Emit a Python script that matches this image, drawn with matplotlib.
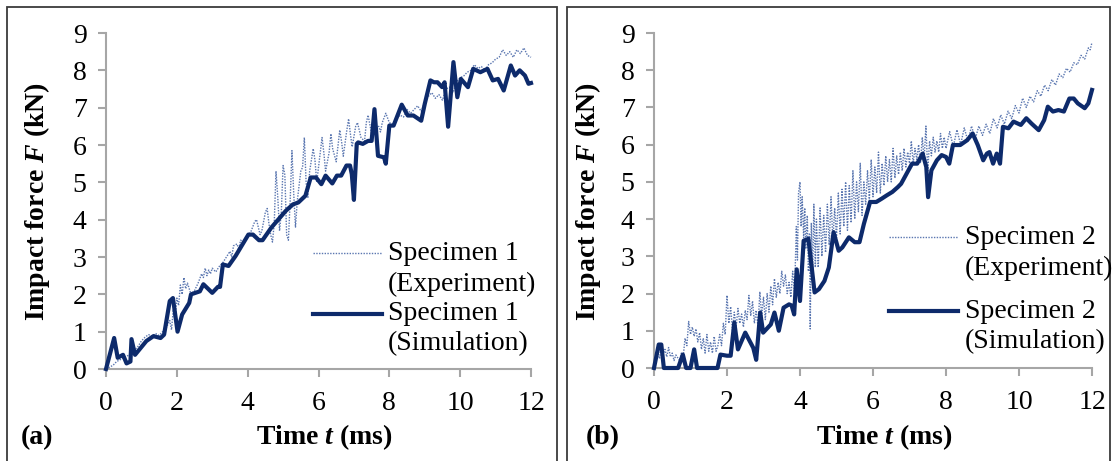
import matplotlib
matplotlib.use("Agg")
import matplotlib.pyplot as plt
from matplotlib.patches import Rectangle
from matplotlib.lines import Line2D

plt.rcParams['font.family'] = ['Liberation Serif', 'DejaVu Serif']
plt.rcParams['mathtext.fontset'] = 'custom'
plt.rcParams['mathtext.rm'] = 'Liberation Serif'
plt.rcParams['mathtext.it'] = 'Liberation Serif:italic'
plt.rcParams['mathtext.bf'] = 'Liberation Serif:bold'
plt.rcParams['mathtext.bfit'] = 'Liberation Serif:bold:italic'

# ---- specimen 1 ----
exp1_t = [0.0, 0.1, 0.2, 0.3, 0.4, 0.5, 0.6, 0.7, 0.8, 0.9, 1.0, 1.1, 1.2, 1.3, 1.4,
          1.5, 1.6, 1.7, 1.8, 1.85, 1.9, 1.95, 2.0, 2.05, 2.1, 2.15, 2.2, 2.25, 2.3,
          2.4, 2.5, 2.6, 2.7, 2.75, 2.8, 2.85, 2.9, 2.95, 3.0, 3.1, 3.2, 3.3, 3.4,
          3.5, 3.55, 3.6, 3.7, 3.75, 3.8, 3.9, 4.0, 4.1, 4.2, 4.25, 4.3, 4.35, 4.4,
          4.5, 4.55, 4.6, 4.65, 4.7, 4.75, 4.8, 4.85, 4.9, 4.95, 5.0, 5.05, 5.1,
          5.15, 5.2, 5.25, 5.3, 5.35, 5.4, 5.5, 5.55, 5.6, 5.65, 5.7, 5.75, 5.85,
          5.9, 5.95, 6.0, 6.1, 6.15, 6.2, 6.3, 6.35, 6.4, 6.5, 6.6, 6.65, 6.7, 6.8,
          6.85, 6.9, 6.95, 7.05, 7.1, 7.2, 7.3, 7.35, 7.4, 7.5, 7.6, 7.7, 7.75, 7.8,
          7.9, 8.0, 8.1, 8.2, 8.3, 8.4, 8.5, 8.6, 8.7, 8.8, 8.9, 9.0, 9.1, 9.2, 9.3,
          9.4, 9.5, 9.6, 9.7, 9.8, 9.9, 10.0, 10.1, 10.2, 10.3, 10.4, 10.5, 10.6,
          10.7, 10.8, 10.9, 11.0, 11.1, 11.2, 11.3, 11.4, 11.5, 11.6, 11.7, 11.8,
          11.9, 12.0]
exp1_f = [0.0, 0.05, 0.1, 0.2, 0.25, 0.3, 0.35, 0.4, 0.5, 0.6, 0.75, 0.85, 0.92, 0.88,
          0.95, 0.9, 1.0, 1.1, 1.3, 1.05, 1.6, 1.3, 1.9, 1.7, 2.25, 2.0, 2.45, 2.15,
          2.3, 2.0, 2.1, 2.3, 2.55, 2.45, 2.7, 2.5, 2.65, 2.55, 2.7, 2.6, 2.75, 2.85,
          3.0, 3.15, 3.0, 3.3, 3.35, 3.2, 3.45, 3.4, 3.55, 3.7, 3.95, 4.0, 3.8, 3.6,
          3.7, 4.2, 4.3, 3.9, 3.6, 3.4, 3.9, 5.3, 4.6, 3.7, 4.2, 5.45, 5.2, 3.6,
          3.45, 4.5, 5.85, 4.7, 3.8, 4.5, 5.3, 5.4, 6.2, 5.0, 4.6, 5.3, 5.9, 5.6,
          5.0, 5.4, 6.2, 5.8, 5.3, 5.8, 6.3, 5.9, 5.55, 6.4, 6.1, 5.7, 6.4, 6.7,
          6.3, 5.95, 6.5, 6.6, 6.2, 6.1, 6.6, 6.8, 6.3, 6.4, 6.5, 6.35, 6.6, 6.85,
          6.6, 6.55, 6.7, 6.8, 6.75, 6.95, 6.85, 6.95, 7.05, 6.9, 7.15, 7.3, 7.4,
          7.25, 7.35, 7.2, 7.5, 7.55, 7.4, 7.7, 7.8, 7.85, 7.95, 8.0, 8.15, 8.05,
          8.1, 8.0, 8.15, 8.2, 8.3, 8.35, 8.55, 8.4, 8.5, 8.35, 8.55, 8.45, 8.6,
          8.4, 8.35]

sim1_t = [0.0, 0.23, 0.33, 0.48, 0.58, 0.69, 0.72, 0.82, 1.14, 1.34, 1.54, 1.64, 1.8,
          1.89, 2.02, 2.15, 2.35, 2.4, 2.65, 2.75, 3.0, 3.16, 3.22, 3.3, 3.46, 3.66,
          4.02, 4.15, 4.32, 4.42, 4.67, 5.08, 5.28, 5.43, 5.63, 5.78, 5.93, 6.08,
          6.2, 6.39, 6.52, 6.64, 6.79, 6.89, 6.94, 7.0, 7.08, 7.12, 7.25, 7.4, 7.5,
          7.58, 7.68, 7.85, 7.9, 8.0, 8.12, 8.35, 8.52, 8.68, 8.9, 9.0, 9.16, 9.26,
          9.36, 9.49, 9.56, 9.66, 9.81, 9.92, 10.02, 10.22, 10.37, 10.57, 10.77,
          10.92, 11.07, 11.23, 11.43, 11.55, 11.68, 11.83, 11.93, 12.0]
sim1_f = [0.0, 0.83, 0.3, 0.38, 0.15, 0.2, 0.8, 0.38, 0.75, 0.88, 0.83, 0.92, 1.82,
          1.9, 1.0, 1.46, 1.77, 2.0, 2.08, 2.27, 2.04, 2.2, 2.2, 2.8, 2.76, 3.03,
          3.6, 3.6, 3.45, 3.45, 3.79, 4.24, 4.41, 4.46, 4.64, 5.13, 5.13, 4.95,
          5.18, 4.97, 5.18, 5.18, 5.45, 5.45, 5.22, 4.53, 6.03, 6.07, 6.03, 6.11,
          6.11, 6.96, 5.71, 5.67, 5.5, 6.52, 6.52, 7.08, 6.79, 6.79, 6.65, 7.1,
          7.73, 7.68, 7.68, 7.55, 7.68, 6.49, 8.22, 7.28, 7.77, 7.55, 8.04, 7.95,
          8.04, 7.73, 7.77, 7.46, 8.13, 7.86, 8.0, 7.86, 7.64, 7.66]

# ---- specimen 2 ----
exp2_t = [0.0, 0.05, 0.1, 0.15, 0.2, 0.25, 0.3, 0.35, 0.4, 0.45, 0.5, 0.55, 0.6, 0.7,
          0.75, 0.8, 0.85, 0.9, 0.95, 1.0, 1.05, 1.1, 1.15, 1.2, 1.25, 1.3, 1.35,
          1.4, 1.45, 1.5, 1.55, 1.6, 1.65, 1.7, 1.75, 1.8, 1.85, 1.9, 1.95, 2.0,
          2.05, 2.1, 2.15, 2.2, 2.25, 2.3, 2.35, 2.4, 2.45, 2.5, 2.55, 2.6, 2.65,
          2.7, 2.75, 2.8, 2.85, 2.9, 2.95, 3.0, 3.05, 3.1, 3.15, 3.2, 3.25, 3.3,
          3.35, 3.4, 3.45, 3.5, 3.55, 3.6, 3.65, 3.7, 3.75, 3.8, 3.85, 3.9, 3.93,
          3.96, 4.0, 4.03, 4.06, 4.1, 4.13, 4.16, 4.2, 4.23, 4.26, 4.28, 4.31, 4.35,
          4.38, 4.42, 4.45, 4.5, 4.55, 4.6, 4.65, 4.7, 4.75, 4.8, 4.85, 4.9, 4.95,
          5.0, 5.05, 5.1, 5.15, 5.2, 5.25, 5.3, 5.35, 5.4, 5.45, 5.5, 5.55, 5.6,
          5.65, 5.7, 5.75, 5.8, 5.85, 5.9, 5.95, 6.0, 6.05, 6.1, 6.15, 6.2, 6.25,
          6.3, 6.35, 6.4, 6.45, 6.5, 6.55, 6.6, 6.65, 6.7, 6.75, 6.8, 6.85, 6.9,
          6.95, 7.0, 7.05, 7.1, 7.15, 7.2, 7.25, 7.3, 7.35, 7.4, 7.45, 7.5, 7.55,
          7.6, 7.65, 7.7, 7.75, 7.8, 7.85, 7.9, 7.95, 8.0, 8.1, 8.2, 8.3, 8.4, 8.5,
          8.6, 8.7, 8.8, 8.9, 9.0, 9.1, 9.2, 9.3, 9.4, 9.5, 9.6, 9.7, 9.8, 9.9,
          10.0, 10.1, 10.2, 10.3, 10.4, 10.5, 10.6, 10.7, 10.8, 10.9, 11.0, 11.1,
          11.2, 11.3, 11.4, 11.5, 11.6, 11.7, 11.8, 11.9, 11.95, 12.0]
exp2_f = [0.0, 0.2, 0.45, 0.25, 0.6, 0.35, 0.5, 0.3, 0.55, 0.3, 0.4, 0.2, 0.35, 0.2,
          0.4, 0.3, 0.8, 0.6, 1.25, 0.9, 1.1, 0.85, 1.05, 0.7, 0.95, 0.5, 0.8, 0.4,
          0.9, 0.45, 0.7, 0.4, 0.85, 0.45, 0.6, 0.9, 0.6, 1.2, 0.9, 1.95, 1.2, 1.65,
          1.0, 1.5, 1.1, 1.6, 1.2, 1.45, 1.1, 1.55, 1.3, 1.95, 1.4, 1.8, 1.2, 1.55,
          1.1, 2.05, 1.4, 1.9, 1.3, 2.0, 1.5, 2.2, 1.7, 2.4, 1.9, 2.3, 2.0, 2.6,
          2.2, 2.5, 2.0, 2.3, 1.9, 2.6, 2.0, 3.8, 2.9, 4.7, 5.0, 3.8, 4.6, 3.5, 4.3,
          3.2, 4.1, 2.6, 3.6, 1.05, 3.9, 2.6, 4.4, 2.7, 4.0, 2.7, 4.3, 3.0, 4.1,
          3.1, 4.4, 3.3, 4.6, 3.4, 4.3, 3.5, 4.7, 3.6, 4.8, 3.8, 5.0, 3.7, 4.9, 3.9,
          5.3, 4.0, 5.0, 4.2, 5.5, 4.1, 5.0, 4.4, 5.3, 4.5, 5.6, 4.6, 5.4, 4.7, 5.8,
          4.7, 5.5, 4.9, 5.7, 5.0, 5.6, 5.0, 5.9, 5.1, 5.7, 5.2, 5.8, 5.3, 5.9, 5.4,
          5.8, 5.5, 6.1, 5.5, 5.9, 5.6, 6.0, 5.5, 6.2, 5.6, 6.5, 5.3, 6.1, 5.7, 6.2,
          5.8, 6.1, 5.8, 6.3, 5.9, 6.2, 5.9, 6.35, 5.95, 6.4, 6.0, 6.45, 6.1, 6.5,
          6.15, 6.5, 6.25, 6.55, 6.3, 6.7, 6.45, 6.8, 6.55, 6.9, 6.7, 7.05, 6.85,
          7.25, 7.0, 7.3, 7.15, 7.45, 7.3, 7.6, 7.45, 7.75, 7.6, 7.9, 7.8, 8.05,
          7.95, 8.2, 8.15, 8.4, 8.3, 8.6, 8.55, 8.75]

sim2_t = [0.0, 0.13, 0.2, 0.27, 0.66, 0.79, 0.88, 1.0, 1.1, 1.18, 1.74, 1.82, 2.0,
          2.1, 2.2, 2.3, 2.5, 2.72, 2.8, 2.91, 2.99, 3.2, 3.3, 3.42, 3.55, 3.7,
          3.77, 3.84, 3.91, 4.0, 4.1, 4.23, 4.4, 4.52, 4.67, 4.79, 4.92, 5.06,
          5.16, 5.34, 5.5, 5.63, 5.75, 5.92, 6.09, 6.24, 6.38, 6.53, 6.68, 6.77,
          6.92, 7.07, 7.21, 7.36, 7.46, 7.51, 7.6, 7.75, 7.88, 8.0, 8.09, 8.19,
          8.39, 8.58, 8.73, 8.87, 9.02, 9.12, 9.19, 9.29, 9.39, 9.48, 9.56, 9.71,
          9.85, 10.05, 10.2, 10.34, 10.54, 10.69, 10.79, 10.93, 11.08, 11.23,
          11.38, 11.5, 11.61, 11.8, 11.9, 12.0]
sim2_f = [0.0, 0.63, 0.63, 0.0, 0.0, 0.36, 0.0, 0.0, 0.5, 0.0, 0.0, 0.36, 0.33,
          0.33, 1.22, 0.5, 0.95, 0.54, 0.22, 1.49, 0.95, 1.17, 1.49, 1.0, 1.62,
          1.71, 1.68, 1.44, 2.65, 1.8, 3.42, 3.47, 2.03, 2.12, 2.34, 2.7, 3.65,
          3.15, 3.24, 3.51, 3.38, 3.38, 3.87, 4.46, 4.46, 4.55, 4.64, 4.73, 4.86,
          4.95, 5.22, 5.49, 5.49, 5.76, 5.4, 4.59, 5.31, 5.58, 5.72, 5.67, 5.49,
          5.99, 5.99, 6.12, 6.3, 5.99, 5.58, 5.76, 5.8, 5.49, 5.76, 5.49, 6.48,
          6.44, 6.62, 6.53, 6.71, 6.57, 6.39, 6.66, 7.02, 6.89, 6.93, 6.89, 7.24,
          7.24, 7.11, 6.98, 7.11, 7.47]

panels = [
    ("(a)", "Specimen 1", exp1_t, exp1_f, sim1_t, sim1_f),
    ("(b)", "Specimen 2", exp2_t, exp2_f, sim2_t, sim2_f),
]

W, H = 1117, 461
fig = plt.figure(figsize=(W / 100, H / 100), dpi=100)

# pixel layout: axes box, frame box, label positions
ax_px = [(106, 531, 369, 33), (654, 1092, 368, 33)]
frame_px = [(7, 557), (567, 1110)]
ylab_x = [37, 588]
xlab_x = [324, 884]
tag_x = [37, 603]
# legend: handle x0, x1, text x, y of the 4 text lines
leg_px = [(313, 382, 388, (253, 284, 314, 344)),
          (889, 958, 965, (237, 268, 311, 342))]

dark = '#0D2A6B'
light = '#5A76B0'
grey = '#A6A6A6'
FS = 20


def fy(y):
    return 1 - y / H


for i, (tag, name, et, ef, st, sf) in enumerate(panels):
    x0, x1, y0, y9 = ax_px[i]
    ax = fig.add_axes([x0 / W, fy(y0), (x1 - x0) / W, (y0 - y9) / H])
    ax.plot(et, ef, color=light, lw=1.0, ls=(0, (1, 1)), zorder=3, clip_on=False)
    ax.plot(st, sf, color=dark, lw=3.0, zorder=4, clip_on=False)
    ax.set_xlim(0, 12)
    ax.set_ylim(0, 9)
    ax.set_xticks(range(0, 13, 2))
    ax.set_yticks(range(0, 10))
    for s in ['top', 'right']:
        ax.spines[s].set_visible(False)
    for s in ['left', 'bottom']:
        ax.spines[s].set_color(grey)
        ax.spines[s].set_linewidth(1.5)
    ax.tick_params(axis='both', direction='out', color=grey, width=1.5,
                   length=6, labelsize=FS)
    ax.tick_params(axis='x', pad=10)
    ax.tick_params(axis='y', pad=8)

    # legend, handles sit on the first line of each label
    hx0, hx1, tx, ys = leg_px[i]
    fig.add_artist(Line2D([hx0 / W, hx1 / W], [fy(ys[0])] * 2, color=light,
                          lw=1.0, ls=(0, (1, 1))))
    fig.add_artist(Line2D([hx0 / W, hx1 / W], [fy(ys[2])] * 2, color=dark, lw=3.0))
    for y, s in zip(ys, [name, "(Experiment)", name, "(Simulation)"]):
        fig.text(tx / W, fy(y), s, ha='left', va='center', fontsize=FS)

    fig.text(ylab_x[i] / W, fy(201), r"Impact force $\mathbfit{F}$ (kN)",
             rotation=90, ha='center', va='center', fontsize=FS, fontweight='bold')
    fig.text(xlab_x[i] / W, fy(437), r"Time $\mathbfit{t}$ (ms)",
             ha='center', va='center', fontsize=FS, fontweight='bold')
    fig.text(tag_x[i] / W, fy(438), tag, ha='center', va='center',
             fontsize=FS, fontweight='bold')

    fl, fr = frame_px[i]
    fig.patches.append(Rectangle((fl / W, -0.05), (fr - fl) / W, 1.05 - 7.5 / H,
                                 transform=fig.transFigure, fill=False,
                                 edgecolor='#3A3A3A', lw=1.3))

fig.savefig("out.png", dpi=100)
